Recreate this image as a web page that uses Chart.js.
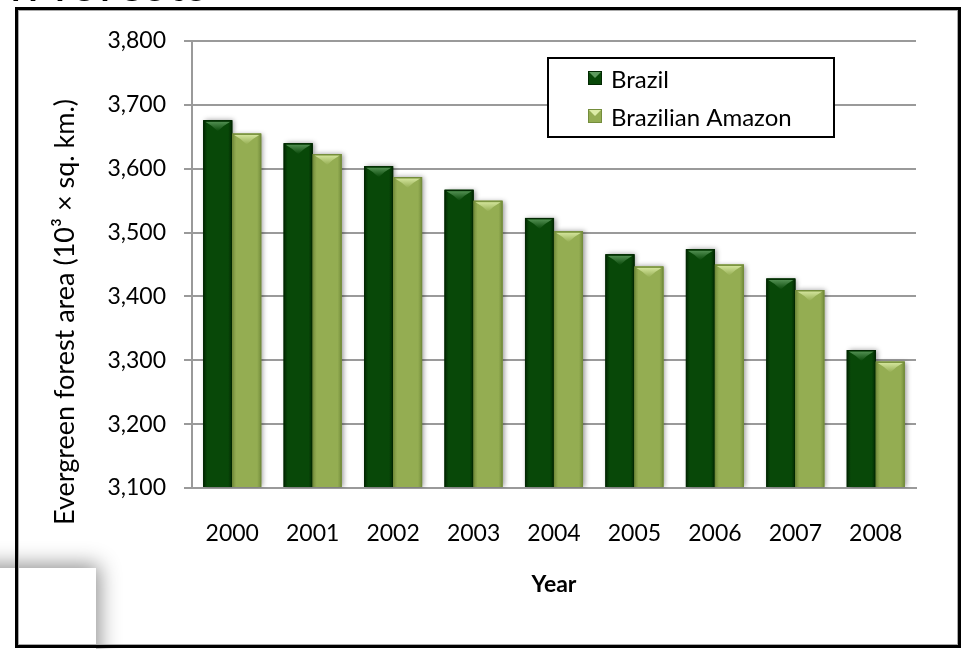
<!DOCTYPE html>
<html>
<head>
<meta charset="utf-8">
<script src="https://cdn.jsdelivr.net/npm/chart.js@4.4.1/dist/chart.umd.min.js"></script>
<style>
  html, body { margin: 0; padding: 0; background: #fff; }
  body { position: relative; width: 963px; height: 649px; overflow: hidden; font-family: Lato, sans-serif; }
  #c { position: absolute; left: 0; top: 0; }
  #heading { position: absolute; right: 755px; top: -45px; font-size: 52px; line-height: 1; white-space: nowrap; color: #000; }
  #card { position: absolute; left: -40px; top: 568px; width: 136px; height: 130px; background: #fff;
          box-shadow: 0 0 20px 3px rgba(0,0,0,0.45); }
  #frame { position: absolute; left: 15px; top: 7px; width: 946px; height: 641px; box-sizing: border-box;
           border: 3px solid #000; box-shadow: inset 0 0 0 1px #aaa; pointer-events: none; }
</style>
</head>
<body>
<canvas id="c" width="963" height="649"></canvas>
<div id="heading">n forests</div>
<div id="card"></div>
<div id="frame"></div>
<script>
// Evergreen forest area, thousands of sq. km
const years  = ['2000', '2001', '2002', '2003', '2004', '2005', '2006', '2007', '2008'];
const brazil = [3676, 3640, 3604, 3567, 3523, 3466, 3474, 3428, 3316];
const amazon = [3655, 3623, 3587, 3550, 3502, 3447, 3450, 3410, 3298];
const yTicks = [3100, 3200, 3300, 3400, 3500, 3600, 3700, 3800];
const seriesNames = ['Brazil', 'Brazilian Amazon'];

const FONT = 'Lato';
const GRID = '#9a9a9a';

// per-series shading for the bevelled bars
const shades = [
  { base: '#084808', edge: '#022802', hi: '#5d9a5d' },
  { base: '#94ad52', edge: '#748d3c', hi: '#dcecA6' }
];

// soft drop shadow under the bars
const barShadow = {
  id: 'barShadow',
  beforeDatasetsDraw(chart) {
    const ctx = chart.ctx;
    ctx.save();
    ctx.shadowColor = 'rgba(0,0,0,0.4)';
    ctx.shadowBlur = 5;
    ctx.shadowOffsetX = 2;
    ctx.shadowOffsetY = 0;
  },
  afterDatasetsDraw(chart) {
    chart.ctx.restore();
  }
};

// cylinder-like side shading and a light bevel at the top of each bar
const barBevel = {
  id: 'barBevel',
  afterDatasetsDraw(chart) {
    const ctx = chart.ctx;
    chart.data.datasets.forEach((ds, i) => {
      const s = shades[i];
      chart.getDatasetMeta(i).data.forEach(bar => {
        const { x, y, base, width } = bar.getProps(['x', 'y', 'base', 'width'], true);
        const l = x - width / 2, r = x + width / 2, h = base - y;
        ctx.save();
        const g = ctx.createLinearGradient(l, 0, r, 0);
        g.addColorStop(0, s.edge);
        g.addColorStop(0.14, s.base);
        g.addColorStop(0.86, s.base);
        g.addColorStop(1, s.edge);
        ctx.fillStyle = g;
        ctx.fillRect(l, y, width, h);
        const bh = Math.min(11, h);
        const bg = ctx.createLinearGradient(0, y, 0, y + bh);
        bg.addColorStop(0, s.hi);
        bg.addColorStop(1, s.base);
        ctx.fillStyle = bg;
        ctx.beginPath();
        ctx.moveTo(l + 2, y + 1.5);
        ctx.lineTo(r - 2, y + 1.5);
        ctx.quadraticCurveTo(x + width * 0.18, y + bh * 0.5, x, y + bh);
        ctx.quadraticCurveTo(x - width * 0.18, y + bh * 0.5, l + 2, y + 1.5);
        ctx.closePath();
        ctx.fill();
        ctx.strokeStyle = s.edge;
        ctx.lineWidth = 1.2;
        ctx.beginPath();
        ctx.moveTo(l + 0.5, y + h);
        ctx.lineTo(l + 0.5, y + 0.6);
        ctx.lineTo(r - 0.5, y + 0.6);
        ctx.lineTo(r - 0.5, y + h);
        ctx.stroke();
        ctx.restore();
      });
    });
  }
};

// rotated y axis title and the boxed legend inside the plot
const annotations = {
  id: 'annotations',
  afterDraw(chart) {
    const ctx = chart.ctx;
    ctx.save();
    ctx.fillStyle = '#000';
    ctx.font = `27px ${FONT}`;
    ctx.textAlign = 'center';
    ctx.textBaseline = 'alphabetic';
    ctx.translate(74, 312);
    ctx.rotate(-Math.PI / 2);
    ctx.fillText('Evergreen forest area (10³ × sq. km.)', 0, 0);
    ctx.restore();

    ctx.save();
    ctx.fillStyle = '#fff';
    ctx.fillRect(548, 58, 286, 79);
    ctx.strokeStyle = '#000';
    ctx.lineWidth = 2;
    ctx.strokeRect(548, 58, 286, 79);
    const rows = [78, 116];
    seriesNames.forEach((name, i) => {
      const s = shades[i];
      const sx = 588, sy = rows[i] - 7, sw = 14, sh = 14;
      ctx.fillStyle = s.base;
      ctx.fillRect(sx, sy, sw, sh);
      ctx.fillStyle = s.hi;
      ctx.beginPath();
      ctx.moveTo(sx, sy); ctx.lineTo(sx + sw, sy); ctx.lineTo(sx + sw / 2, sy + sh / 2); ctx.closePath();
      ctx.fill();
      ctx.strokeStyle = s.edge;
      ctx.lineWidth = 1;
      ctx.strokeRect(sx + 0.5, sy + 0.5, sw - 1, sh - 1);
      ctx.fillStyle = '#000';
      ctx.font = `24px ${FONT}`;
      ctx.textAlign = 'left';
      ctx.textBaseline = 'middle';
      ctx.fillText(name, 611, rows[i] + 2);
    });
    ctx.restore();
  }
};

new Chart(document.getElementById('c'), {
  type: 'bar',
  data: {
    labels: years,
    datasets: [
      { label: seriesNames[0], data: brazil, backgroundColor: shades[0].base, borderWidth: 0 },
      { label: seriesNames[1], data: amazon, backgroundColor: shades[1].base, borderWidth: 0 }
    ]
  },
  options: {
    responsive: false,
    animation: false,
    devicePixelRatio: 1,
    datasets: { bar: { categoryPercentage: 0.72, barPercentage: 1.0, base: yTicks[0] } },
    layout: { padding: { top: 41, right: 47, bottom: 0, left: 0 } },
    plugins: { legend: { display: false }, tooltip: { enabled: false }, title: { display: false } },
    scales: {
      x: {
        grid: { display: false },
        border: { display: true, color: GRID, width: 2 },
        ticks: { padding: 24, color: '#000', font: { family: FONT, size: 23 } },
        title: { display: true, text: 'Year', color: '#000', font: { family: FONT, size: 23, weight: 'bold' },
                 padding: { top: 0, bottom: 51 } },
        afterFit(s) { s.height = 161; }
      },
      y: {
        min: yTicks[0],
        max: yTicks[yTicks.length - 1],
        afterBuildTicks(s) { s.ticks = yTicks.map(v => ({ value: v })); },
        grid: { color: GRID, lineWidth: 2, tickLength: 8, drawTicks: true },
        border: { display: true, color: GRID, width: 2 },
        ticks: { padding: 18, color: '#000', font: { family: FONT, size: 23 },
                 callback: v => v.toLocaleString('en-US') },
        afterFit(s) { s.width = 192; }
      }
    }
  },
  plugins: [barShadow, barBevel, annotations]
});
</script>
</body>
</html>
